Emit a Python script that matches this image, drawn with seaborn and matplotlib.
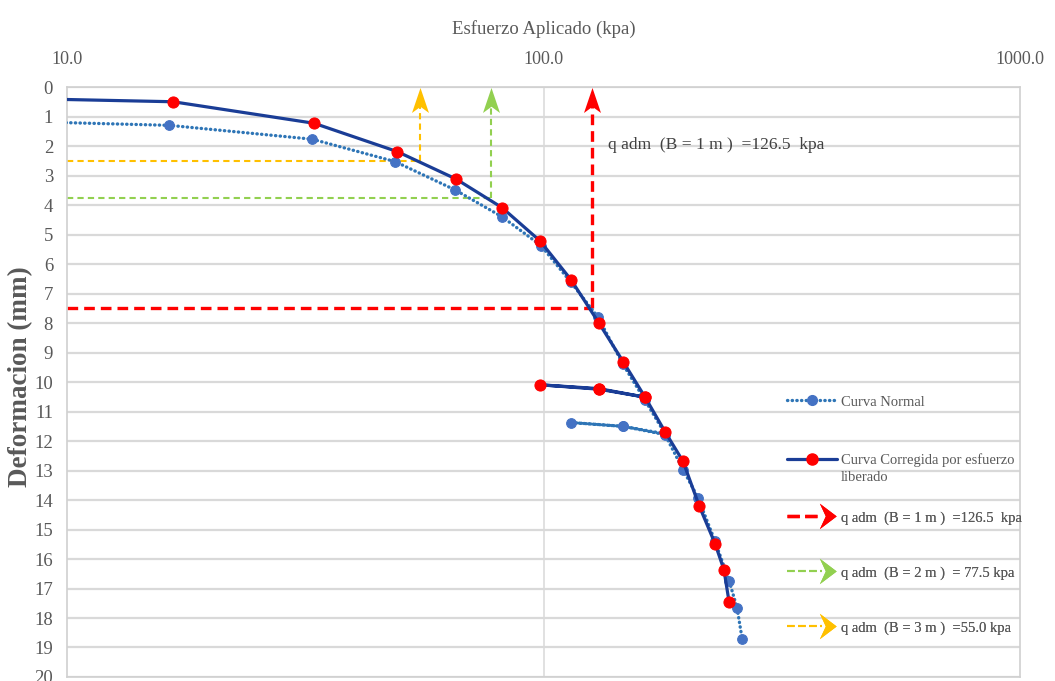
import numpy as np
import pandas as pd
import matplotlib
matplotlib.use("Agg")
import matplotlib.pyplot as plt
import seaborn as sns
from matplotlib.lines import Line2D
from matplotlib.patches import Polygon
from matplotlib.path import Path
from matplotlib.legend_handler import HandlerBase
from matplotlib.ticker import FixedLocator, NullLocator, FixedFormatter

# ---------------- data ----------------
normal_stress = [8.5, 16.4, 32.7, 48.8, 65.2, 81.8, 98.8, 114.2, 130.0, 146.8, 163.3,
                 179.8, 146.8, 114.2, 146.8, 179.8, 196.2, 211.0, 229.0, 245.0, 254.7, 261.0]
normal_def = [1.17, 1.29, 1.76, 2.52, 3.48, 4.39, 5.37, 6.62, 7.79, 9.40, 10.62,
              11.75, 11.50, 11.37, 11.50, 11.78, 12.97, 13.93, 15.40, 16.73, 17.66, 18.71]

corr_stress = [8.5, 16.7, 33.0, 49.3, 65.5, 81.8, 98.3, 114.2, 130.7, 146.8, 163.3,
               130.7, 98.3, 130.7, 163.3, 179.8, 196.2, 212.0, 229.0, 239.0, 245.0]
corr_def = [0.39, 0.49, 1.22, 2.18, 3.11, 4.08, 5.21, 6.53, 8.00, 9.30, 10.51,
            10.24, 10.09, 10.22, 10.51, 11.68, 12.69, 14.19, 15.48, 16.36, 17.45]

qadm_values = [126.5, 77.5, 55.0]
qadm_def = [7.5, 3.75, 2.5]
qadm_labels = ["q adm  (B = 1 m )  =126.5  kpa",
               "q adm  (B = 2 m )  = 77.5 kpa",
               "q adm  (B = 3 m )  =55.0 kpa"]
qadm_colors = ["#ff0000", "#92d050", "#ffc000"]

x_ticks = [10, 100, 1000]
y_ticks = list(range(0, 21))
series_labels = ["Curva Normal", "Curva Corregida por esfuerzo", "liberado"]

# ---------------- style ----------------
sns.set_style("white")
plt.rcParams["font.family"] = ["Liberation Serif", "DejaVu Serif"]
GRAY = "#595959"
N_COL, N_MK = "#2e75b6", "#4472c4"
C_COL, C_MK = "#1a3d96", "#ff0000"
DOT = (0, (0.1, 1.3))
N_LW = 2.4

fig, ax = plt.subplots(figsize=(10.55, 6.81), dpi=100)
fig.subplots_adjust(left=0.0635, right=0.967, top=0.8718, bottom=0.0059)

ax.set_xscale("log")

df_n = pd.DataFrame({"x": normal_stress, "y": normal_def})
df_c = pd.DataFrame({"x": corr_stress, "y": corr_def})

sns.lineplot(data=df_n, x="x", y="y", sort=False, estimator=None, ax=ax,
             color=N_COL, lw=N_LW, ls=DOT, dash_capstyle="round", marker="o", ms=7,
             markerfacecolor=N_MK, markeredgecolor=N_MK, zorder=3)
sns.lineplot(data=df_c, x="x", y="y", sort=False, estimator=None, ax=ax,
             color=C_COL, lw=2.3, marker="o", ms=8,
             markerfacecolor=C_MK, markeredgecolor=C_MK, zorder=4)

# stealth arrow head marker (pointing up)
head_up = Path([(0, 1), (0.68, -1), (0, -0.5), (-0.68, -1), (0, 1)],
               [Path.MOVETO, Path.LINETO, Path.LINETO, Path.LINETO, Path.CLOSEPOLY])

arrow_lines = []
for i, (q, d, col) in enumerate(zip(qadm_values, qadm_def, qadm_colors)):
    lw = 2.4 if i == 0 else 1.5
    dash = (0, (3.2, 1.8)) if i == 0 else (0, (3, 2))
    ax.plot([10, q], [d, d], color=col, lw=lw, ls=dash, zorder=2)
    ln, = ax.plot([q, q], [d, 0.5], color=col, lw=lw, ls=dash, zorder=2)
    ax.plot([q], [0.43], marker=head_up, ms=18, color=col, mew=0, ls="none",
            clip_on=False, zorder=5)
    arrow_lines.append(ln)

ax.text(136.5, 1.95, qadm_labels[0], va="center", ha="left", fontsize=12.6, color="#404040")

# axes formatting
ax.set_xlim(10, 1000)
ax.set_ylim(20, 0)
ax.xaxis.tick_top()
ax.xaxis.set_label_position("top")
ax.xaxis.set_major_locator(FixedLocator(x_ticks))
ax.xaxis.set_major_formatter(FixedFormatter([f"{v:.1f}" for v in x_ticks]))
ax.xaxis.set_minor_locator(NullLocator())
ax.set_yticks(y_ticks)
ax.tick_params(axis="x", length=0, pad=14, labelsize=13, labelcolor=GRAY)
ax.tick_params(axis="y", length=0, pad=10, labelsize=13.5, labelcolor=GRAY)
ax.set_xlabel("Esfuerzo Aplicado (kpa)", fontsize=13.5, color=GRAY, labelpad=12)
ax.set_ylabel("Deformacion (mm)", fontsize=19.5, color=GRAY, fontweight="bold")
ax.yaxis.set_label_coords(-0.036, 0.51)

ax.grid(False)
for yv in y_ticks:
    ax.axhline(yv, color="#d9d9d9", lw=1.6, zorder=0)
ax.axvline(100, color="#d9d9d9", lw=1.1, zorder=0)
for s in ax.spines.values():
    s.set_color("#d0d0d0")
    s.set_linewidth(1.2)


class HandlerArrow(HandlerBase):
    def create_artists(self, legend, orig_handle, xdescent, ydescent,
                       width, height, fontsize, trans):
        col = orig_handle.get_color()
        lw = orig_handle.get_linewidth()
        y = height / 2 - ydescent
        x0 = -xdescent
        line = Line2D([x0, x0 + width * 0.7], [y, y], color=col, lw=lw,
                      ls=orig_handle.get_linestyle(), transform=trans)
        hw = height * 1.25
        hx = x0 + width
        poly = Polygon([[hx, y], [hx - width * 0.34, y + hw],
                        [hx - width * 0.22, y], [hx - width * 0.34, y - hw]],
                       closed=True, facecolor=col, edgecolor="none", transform=trans)
        return [line, poly]


n_handle = Line2D([], [], color=N_COL, lw=N_LW, ls=DOT, dash_capstyle="round",
                  marker="o", ms=7, markerfacecolor=N_MK, markeredgecolor=N_MK)
c_handle = Line2D([], [], color=C_COL, lw=2.3, marker="o", ms=8,
                  markerfacecolor=C_MK, markeredgecolor=C_MK)
blank = Line2D([], [], color="none", lw=0)


def px_to_axy(py):
    return 1 - (py - 87.3) / 589.7


LEG_X = (787 - 67) / 953
common = dict(frameon=False, fontsize=10.5, handlelength=3.4, handletextpad=0.3,
              borderpad=0, borderaxespad=0, loc="center left")

legs = []
legs.append(ax.legend([n_handle], [series_labels[0]], bbox_to_anchor=(LEG_X, px_to_axy(402)),
                      **common))
legs.append(ax.legend([c_handle, blank], series_labels[1:], labelspacing=0.25,
                      bbox_to_anchor=(LEG_X, px_to_axy(469)), **common))
hmap = {h: HandlerArrow() for h in arrow_lines}
legs.append(ax.legend(arrow_lines, qadm_labels, handler_map=hmap, labelspacing=2.85,
                      bbox_to_anchor=(LEG_X, px_to_axy(573)), **common))
for lg in legs:
    for t in lg.get_texts():
        t.set_color(GRAY)
    ax.add_artist(lg)

fig.savefig("out.png", dpi=100)
